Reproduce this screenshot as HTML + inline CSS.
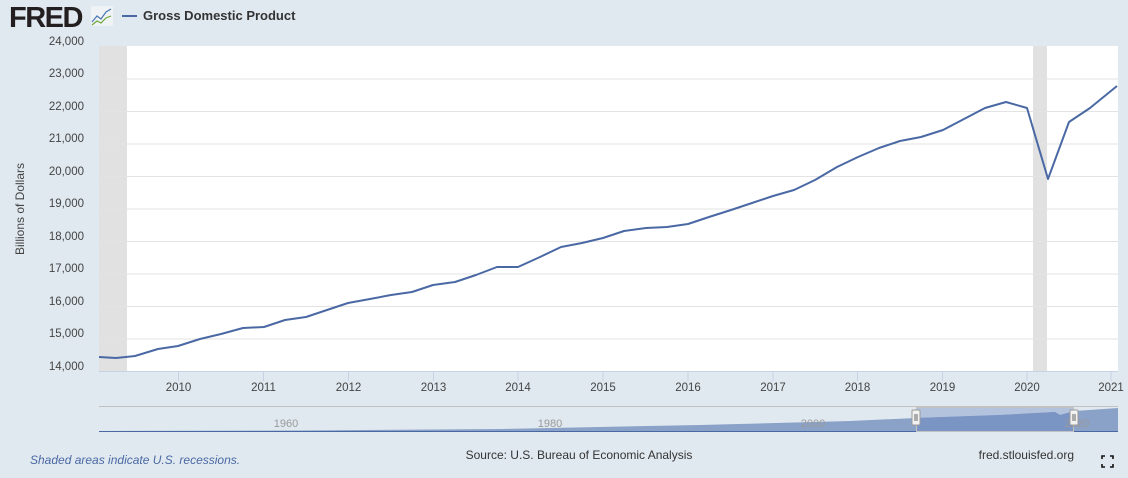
<!DOCTYPE html>
<html><head><meta charset="utf-8"><style>
body{margin:0;background:#e1e9f0;width:1128px;height:478px;overflow:hidden;font-family:"Liberation Sans",sans-serif}
svg{display:block}
</style></head><body>
<svg width="1128" height="478" xmlns="http://www.w3.org/2000/svg" font-family="Liberation Sans, sans-serif">
<rect width="1128" height="478" fill="#e1e9f0"/>
<text x="9" y="27" font-size="29" font-weight="bold" fill="#231f20" letter-spacing="-1.5">FRED</text>
<rect x="91" y="6" width="22" height="20" fill="#f0f3f6" rx="2"/>
<polyline points="92,22 97,16 101,19 106,12 111,9" fill="none" stroke="#4a77b4" stroke-width="1.2"/>
<polyline points="92,25 97,21 101,23 106,18 111,16" fill="none" stroke="#6fa63a" stroke-width="1.2"/>
<line x1="122" y1="16" x2="137" y2="16" stroke="#4a69a4" stroke-width="2"/>
<text x="143" y="20" font-size="13" font-weight="bold" fill="#333">Gross Domestic Product</text>
<rect x="99" y="46" width="1019" height="326" fill="#fff"/>
<rect x="99" y="46" width="28" height="326" fill="#e1e1e1"/>
<rect x="1033" y="46" width="14" height="326" fill="#e1e1e1"/>
<g stroke="#e3e3e3" stroke-width="1">
<line x1="99" x2="1118" y1="79" y2="79"/><line x1="99" x2="1118" y1="111.5" y2="111.5"/><line x1="99" x2="1118" y1="144" y2="144"/><line x1="99" x2="1118" y1="176.5" y2="176.5"/><line x1="99" x2="1118" y1="209" y2="209"/><line x1="99" x2="1118" y1="241.5" y2="241.5"/><line x1="99" x2="1118" y1="274" y2="274"/><line x1="99" x2="1118" y1="306.5" y2="306.5"/><line x1="99" x2="1118" y1="339" y2="339"/>
</g>
<line x1="99" x2="1118" y1="371.5" y2="371.5" stroke="#c6d1e3"/>
<g stroke="#c6d1e3"><line x1="178.5" x2="178.5" y1="372" y2="381"/><line x1="263.5" x2="263.5" y1="372" y2="381"/><line x1="348.5" x2="348.5" y1="372" y2="381"/><line x1="433.5" x2="433.5" y1="372" y2="381"/><line x1="518" x2="518" y1="372" y2="381"/><line x1="603" x2="603" y1="372" y2="381"/><line x1="688" x2="688" y1="372" y2="381"/><line x1="773" x2="773" y1="372" y2="381"/><line x1="857.5" x2="857.5" y1="372" y2="381"/><line x1="942.5" x2="942.5" y1="372" y2="381"/><line x1="1027" x2="1027" y1="372" y2="381"/><line x1="1111" x2="1111" y1="372" y2="381"/></g>
<g font-size="11.5" fill="#444" text-anchor="end">
<text x="84" y="45">24,000</text><text x="84" y="77">23,000</text><text x="84" y="110">22,000</text><text x="84" y="142">21,000</text><text x="84" y="175">20,000</text><text x="84" y="207">19,000</text><text x="84" y="240">18,000</text><text x="84" y="272">17,000</text><text x="84" y="305">16,000</text><text x="84" y="337">15,000</text><text x="84" y="370">14,000</text>
</g>
<g font-size="11.5" fill="#444" text-anchor="middle">
<text x="178.5" y="391">2010</text><text x="263.5" y="391">2011</text><text x="348.5" y="391">2012</text><text x="433.5" y="391">2013</text><text x="518" y="391">2014</text><text x="603" y="391">2015</text><text x="688" y="391">2016</text><text x="773" y="391">2017</text><text x="857.5" y="391">2018</text><text x="942.5" y="391">2019</text><text x="1027" y="391">2020</text><text x="1111" y="391">2021</text>
</g>
<text transform="translate(24,209) rotate(-90)" font-size="12" fill="#444" text-anchor="middle">Billions of Dollars</text>
<polyline fill="none" stroke="#4a69a4" stroke-width="2" stroke-linejoin="round" points="99,357 116,358 135,356 158,349 178,346 200,339 221,334 243,328 264,327 285,320 306,317 327,310 348,303 370,299 391,295 412,292 433,285 455,282 476,275 497,267 518,267 540,257 561,247 582,243 603,238 624,231 646,228 667,227 688,224 709,217 731,210 752,203 773,196 794,190 815,180 837,167 858,157 879,148 900,141 921,137 943,130 964,119 985,108 1006,102 1027,108 1048,179 1069,122 1090,108 1117,86"/>
<line x1="99" x2="1118" y1="406.5" y2="406.5" stroke="#c2c2c2"/>
<rect x="916" y="407" width="158" height="25" fill="#b3c3dd"/>
<polygon points="99,431 300,430.5 500,429 700,425 850,421 916,418 1000,415 1055,412 1060,415 1075,411 1118,408 1118,432 99,432" fill="#8aa2c8"/>
<polygon points="916,418 1000,415 1055,412 1060,415 1074,411 1074,432 916,432" fill="#7a95c4"/>
<line x1="99" x2="1118" y1="431.5" y2="431.5" stroke="#4a69a4"/>
<rect x="916.5" y="407.5" width="157" height="24" fill="none" stroke="#c2c2c2"/>
<g font-size="11" fill="#999" text-anchor="middle"><text x="286" y="427">1960</text><text x="550" y="427">1980</text><text x="813" y="427">2000</text><text x="1077" y="427">2020</text></g>
<rect x="912" y="410" width="8" height="15" fill="#f2f2f2" stroke="#999" rx="1"/>
<line x1="915" x2="915" y1="414" y2="421" stroke="#666"/><line x1="917" x2="917" y1="414" y2="421" stroke="#666"/>
<rect x="1070" y="410" width="8" height="15" fill="#f2f2f2" stroke="#999" rx="1"/>
<line x1="1073" x2="1073" y1="414" y2="421" stroke="#666"/><line x1="1075" x2="1075" y1="414" y2="421" stroke="#666"/>
<text x="30" y="464" font-size="12" font-style="italic" fill="#4a69a4">Shaded areas indicate U.S. recessions.</text>
<text x="579" y="459" font-size="12" fill="#333" text-anchor="middle">Source: U.S. Bureau of Economic Analysis</text>
<text x="1074" y="459" font-size="12" fill="#333" text-anchor="end">fred.stlouisfed.org</text>
<g stroke="#111" stroke-width="1.6" fill="none"><polyline points="1102,459 1102,456 1105,456"/><polyline points="1110,456 1113,456 1113,459"/><polyline points="1102,464 1102,467 1105,467"/><polyline points="1110,467 1113,467 1113,464"/></g>
</svg>
</body></html>
